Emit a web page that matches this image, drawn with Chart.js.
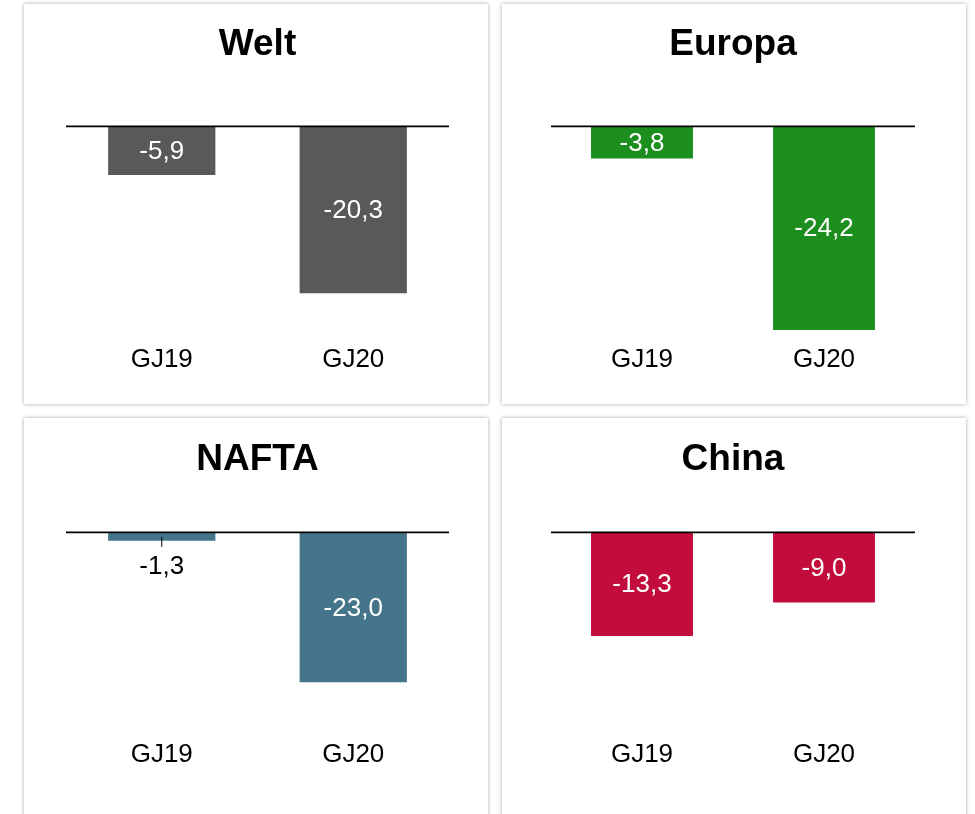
<!DOCTYPE html>
<html>
<head>
<meta charset="utf-8">
<script src="https://cdn.jsdelivr.net/npm/chart.js@4.4.1/dist/chart.umd.min.js"></script>
<style>
  html, body { margin: 0; padding: 0; background: #fff; overflow: hidden; }
  .card {
    position: absolute;
    width: 464px;
    height: 400px;
    background: #fff;
    box-shadow: 0 0 4px rgba(0, 0, 0, 0.35);
  }
</style>
</head>
<body>
<div class="card" style="left:24px; top:4px;"><canvas id="c0" width="464" height="400"></canvas></div>
<div class="card" style="left:502px; top:4px;"><canvas id="c1" width="464" height="400"></canvas></div>
<div class="card" style="left:24px; top:418px;"><canvas id="c2" width="464" height="400"></canvas></div>
<div class="card" style="left:502px; top:418px;"><canvas id="c3" width="464" height="400"></canvas></div>
<script>
// data
const categories = ['GJ19', 'GJ20'];
const regions = ['Welt', 'Europa', 'NAFTA', 'China'];
const weltValues = [-5.9, -20.3];
const europaValues = [-3.8, -24.2];
const naftaValues = [-1.3, -23.0];
const chinaValues = [-13.3, -9.0];
const seriesValues = [weltValues, europaValues, naftaValues, chinaValues];
const axisMin = [-25.6, -25.0, -30.6, -25.6];

const colors = ['#59595b', '#1b8e1e', '#44758a', '#c20c3c'];
const FONT = "'Liberation Sans', Arial, sans-serif";

// panel layout (title padding, chart padding)
const layouts = [
  { titleTop: 19, titleBottom: 59, left: 42, right: 39, bottom: 22 },
  { titleTop: 19, titleBottom: 59, left: 49, right: 51, bottom: 22 },
  { titleTop: 20, titleBottom: 50, left: 42, right: 39, bottom: 41 },
  { titleTop: 20, titleBottom: 50, left: 49, right: 51, bottom: 41 }
];

// zero line + value labels
const labelPlugin = {
  id: 'labelPlugin',
  afterDatasetsDraw(chart) {
    const ctx = chart.ctx;
    const area = chart.chartArea;
    const y0 = chart.scales.y.getPixelForValue(0);
    ctx.save();
    ctx.strokeStyle = '#000';
    ctx.lineWidth = 1.6;
    ctx.beginPath();
    ctx.moveTo(area.left, y0);
    ctx.lineTo(area.right, y0);
    ctx.stroke();

    const meta = chart.getDatasetMeta(0);
    const data = chart.data.datasets[0].data;
    ctx.font = '26px ' + FONT;
    ctx.textAlign = 'center';
    ctx.textBaseline = 'middle';
    meta.data.forEach((bar, i) => {
      const txt = data[i].toFixed(1).replace('.', ',');
      const h = Math.abs(bar.y - bar.base);
      if (h < 30) {
        ctx.strokeStyle = '#000';
        ctx.lineWidth = 1;
        ctx.beginPath();
        ctx.moveTo(bar.x, bar.y - 4);
        ctx.lineTo(bar.x, bar.y + 6);
        ctx.stroke();
        ctx.fillStyle = '#000';
        ctx.fillText(txt, bar.x, bar.y + 26);
      } else {
        ctx.fillStyle = '#fff';
        ctx.fillText(txt, bar.x, (bar.y + bar.base) / 2 + 1);
      }
    });
    ctx.restore();
  }
};

regions.forEach((name, k) => {
  const lay = layouts[k];
  new Chart(document.getElementById('c' + k), {
    type: 'bar',
    data: {
      labels: categories,
      datasets: [{
        data: seriesValues[k],
        backgroundColor: colors[k],
        borderWidth: 0,
        categoryPercentage: 1,
        barPercentage: 0.56
      }]
    },
    options: {
      responsive: false,
      animation: false,
      layout: { padding: { left: lay.left, right: lay.right, top: 0, bottom: lay.bottom } },
      plugins: {
        legend: { display: false },
        tooltip: { enabled: false },
        title: {
          display: true,
          text: name,
          color: '#000',
          font: { family: FONT, size: 37, weight: 'bold' },
          padding: { top: lay.titleTop, bottom: lay.titleBottom }
        }
      },
      scales: {
        x: {
          grid: { display: false, drawTicks: false },
          border: { display: false },
          ticks: { color: '#000', padding: 7, font: { family: FONT, size: 26 } }
        },
        y: {
          display: false,
          min: axisMin[k],
          max: 0
        }
      }
    },
    plugins: [labelPlugin]
  });
});
</script>
</body>
</html>
